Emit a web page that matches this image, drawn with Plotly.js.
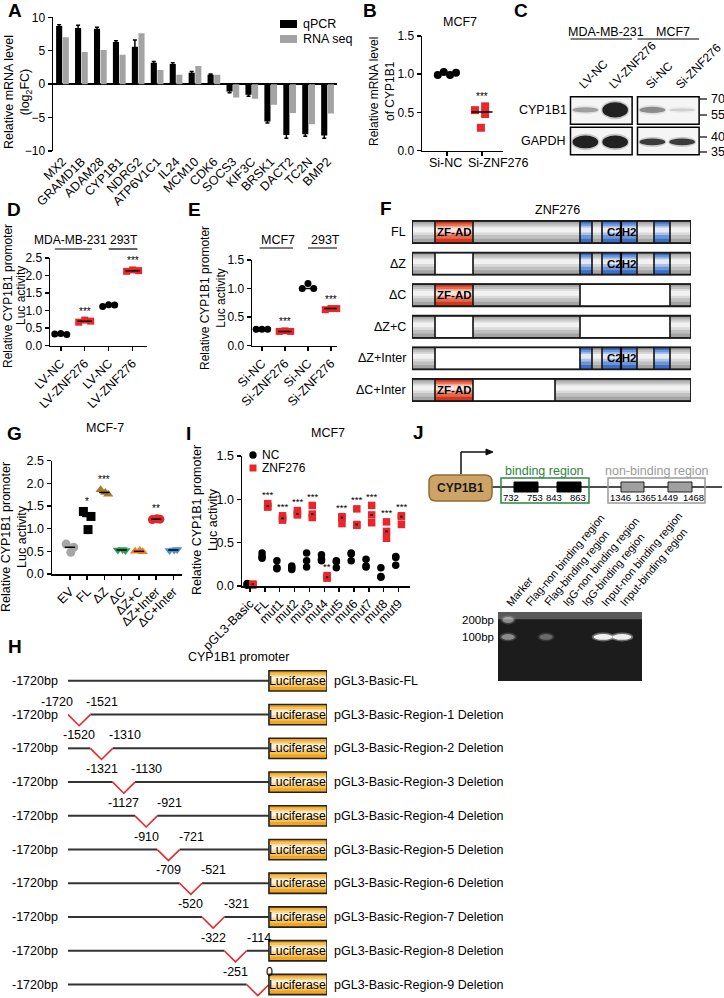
<!DOCTYPE html>
<html>
<head>
<meta charset="utf-8">
<script src="https://cdn.plot.ly/plotly-3.0.1.min.js"></script>
<style>html,body{margin:0;padding:0;background:#fff;}#chart{width:724px;height:998px;}</style>
</head>
<body>
<div id="chart"></div>
<script>
// ================= DATA =================
// Panel A
const genesA=['MX2','GRAMD1B','ADAM28','CYP1B1','NDRG2','ATP6V1C1','IL24','MCM10','CDK6','SOCS3','KIF3C','BRSK1','DACT2','TC2N','BMP2'];
const seriesA=['qPCR','RNA seq'];
const qpcrA=[8.7,8.4,8.3,6.3,5.6,3.2,3.0,1.7,1.4,-1.1,-1.6,-5.6,-7.6,-7.5,-7.7];
const qpcrErrA=[0.2,0.4,0.2,0.2,1.0,0.2,0.2,0.2,0.1,0.2,0.2,0.2,0.5,0.3,0.4];
const rnaseqA=[7.0,4.8,5.1,4.4,7.6,2.1,1.4,2.7,1.4,-2.0,-2.2,-3.1,-4.3,-6.0,-4.4];
// Panel B
const catsB=['Si-NC','Si-ZNF276'];
const ncB=[0.99,1.03,0.99,1.02];
const znfB=[0.53,0.58,0.48,0.30];
// Panel C (western blot)
const blotGroupsC=['MDA-MB-231','MCF7'];
const blotLanesC=['LV-NC','LV-ZNF276','Si-NC','Si-ZNF276'];
const blotRowsC=['CYP1B1','GAPDH'];
const cyp1b1BandC=[0.35,1.0,0.45,0.15];
const gapdhBandC=[1.0,1.0,0.85,0.85];
const markersC=['70','55','40','35'];
// Panel D
const groupsD=['MDA-MB-231','293T'];
const catsD=['LV-NC','LV-ZNF276','LV-NC','LV-ZNF276'];
const valsD=[[0.33,0.35,0.32],[0.67,0.73,0.70],[1.12,1.17,1.16],[2.12,2.16,2.14]];
const starsD=['','***','','***'];
// Panel E
const groupsE=['MCF7','293T'];
const catsE=['Si-NC','Si-ZNF276','Si-NC','Si-ZNF276'];
const valsE=[[0.29,0.29,0.29],[0.25,0.26,0.25],[1.0,1.09,1.0],[0.63,0.65,0.65]];
const starsE=['','***','','***'];
// Panel F (ZNF276 constructs): [start,end,domainType] in diagram units
const constructsF=['FL','ΔZ','ΔC','ΔZ+C','ΔZ+Inter','ΔC+Inter'];
const segmentsF=[
 [[0,23,'g'],[23,61,'z'],[61,168,'g'],[168,180,'b'],[180,190,'g'],[190,209,'b'],[209,225,'b'],[225,242,'g'],[242,258,'b'],[258,279,'g']],
 [[0,23,'g'],[23,61,'w'],[61,168,'g'],[168,180,'b'],[180,190,'g'],[190,209,'b'],[209,225,'b'],[225,242,'g'],[242,258,'b'],[258,279,'g']],
 [[0,23,'g'],[23,61,'z'],[61,168,'g'],[168,258,'w'],[258,279,'g']],
 [[0,23,'g'],[23,61,'w'],[61,168,'g'],[168,258,'w'],[258,279,'g']],
 [[0,23,'g'],[23,168,'w'],[168,180,'b'],[180,190,'g'],[190,209,'b'],[209,225,'b'],[225,242,'g'],[242,258,'b'],[258,279,'g']],
 [[0,23,'g'],[23,61,'z'],[61,143,'w'],[143,279,'g']]
];
const domainNamesF={z:'ZF-AD',c2h2:'C2H2'};
// Panel G
const catsG=['EV','FL','ΔZ','ΔC','ΔZ+C','ΔZ+Inter','ΔC+Inter'];
const valsG=[[0.66,0.59,0.48],[1.38,1.27,0.98],[1.86,1.76,1.80],[0.53,0.52,0.54],[0.50,0.49,0.52],[1.20,1.21,1.22],[0.52,0.54,0.53]];
const starsG=['','*','***','','','**',''];
// Panel I
const seriesI=['NC','ZNF276'];
const catsI=['pGL3-Basic','FL','mut1','mut2','mut3','mut4','mut5','mut6','mut7','mut8','mut9'];
const ncI=[[0.02,0.03,0.01],[0.38,0.34,0.32],[0.29,0.21,0.20],[0.23,0.21,0.19],[0.38,0.29,0.22],[0.36,0.31,0.29],[0.29,0.28,0.21],[0.38,0.37,0.29],[0.31,0.23,0.22],[0.21,0.11,0.10],[0.34,0.33,0.24]];
const znfI=[[0.02,0.02,0.01],[0.95,0.92,0.91],[0.81,0.78,0.76],[0.87,0.83,0.82],[0.93,0.83,0.79],[0.12,0.10,0.09],[0.80,0.79,0.72],[0.89,0.71,0.70],[0.93,0.82,0.73],[0.74,0.63,0.55],[0.81,0.80,0.71]];
const starsI=['','***','***','***','***','**','***','***','***','***','***'];
// Panel H (promoter deletions)
const rowsH=['pGL3-Basic-FL','pGL3-Basic-Region-1 Deletion','pGL3-Basic-Region-2 Deletion','pGL3-Basic-Region-3 Deletion','pGL3-Basic-Region-4 Deletion','pGL3-Basic-Region-5 Deletion','pGL3-Basic-Region-6 Deletion','pGL3-Basic-Region-7 Deletion','pGL3-Basic-Region-8 Deletion','pGL3-Basic-Region-9 Deletion'];
const delFromH=[null,'-1720','-1520','-1321','-1127','-910','-709','-520','-322','-251'];
const delToH=[null,'-1521','-1310','-1130','-921','-721','-521','-321','-114','0'];
const promoterStartH='-1720bp';
// Panel J
const bindingSitesJ=[['732','753'],['843','863']];
const nonBindingSitesJ=[['1346','1365'],['1449','1468']];
const gelLanesJ=['Marker','Flag-non binding region','Flag-binding region','IgG-non binding region','IgG-binding region','Input-non binding region','Input-binding region'];
const gelBand100J=[0.45,0,0.3,0,0,1,1];
const gelBand200J=[0.45,0,0,0,0,0,0];
const gelMarkersJ=[['200bp',200],['100bp',100]];

// ================= HELPERS =================
const FONT='Arial, "Liberation Sans", Helvetica, sans-serif';
const W=724,H=998;
const PX=x=>x/W, PY=y=>1-y/H;
const XD=(a,b)=>[a/W,b/W];
const YD=(t,b)=>[1-b/H,1-t/H];
const shapes=[],ann=[],traces=[];
function T(x,y,t,o){o=o||{};const xr=o.xref||'paper',yr=o.yref||'paper';
 ann.push({xref:xr,yref:yr,x:xr==='paper'?PX(x):x,y:yr==='paper'?PY(y):y,text:t,showarrow:false,
  font:{family:FONT,size:o.size||12,color:o.color||'#000'},xanchor:o.xa||'center',yanchor:o.ya||'middle',
  textangle:o.angle||0,xshift:o.xs||0,yshift:o.ys||0});}
function L(x0,y0,x1,y1,c,w){shapes.push({type:'line',xref:'paper',yref:'paper',x0:PX(x0),y0:PY(y0),x1:PX(x1),y1:PY(y1),line:{color:c||'#000',width:w||1.5}});}
function R(x0,y0,x1,y1,fill,lc,lw){shapes.push({type:'rect',xref:'paper',yref:'paper',x0:PX(x0),y0:PY(y0),x1:PX(x1),y1:PY(y1),fillcolor:fill||'rgba(0,0,0,0)',line:{color:lc||'#000',width:lw==null?1.5:lw}});}
function S(s){shapes.push(s);}
function numAxis(dom,anchor,range,o){return Object.assign({domain:dom,anchor:anchor,range:range,showline:true,linecolor:'#000',linewidth:1.5,
 ticks:'outside',ticklen:4,tickwidth:1.5,tickcolor:'#000',showgrid:false,zeroline:false,fixedrange:true,automargin:false,
 tickfont:{family:FONT,size:12,color:'#000'}},o||{});}
function hidAxis(dom,anchor,range){return {domain:dom,anchor:anchor,range:range,visible:false,fixedrange:true,showgrid:false,zeroline:false};}
const median=a=>{const s=[...a].sort((p,q)=>p-q);const n=s.length;return n%2?s[(n-1)/2]:(s[n/2-1]+s[n/2])/2;};
const RED='#e8262b';
const GRAD={g:['#a4a4a4','#c0c0c0','#dadada','#f2f2f2'],z:['#d6341b','#e46a4f','#efa58f','#fbe2da'],
 b:['#3b6ec6','#6e95d6','#a9c1e8','#e2eaf7'],o:['#f1a623','#f5c159','#f9da98','#fdf1d8']};
function gradBox(xref,yref,x0,x1,yc,hh,cols){ // y axis reversed: yc-hh is top
 const fr=[[0,1],[0.12,0.8],[0.22,0.64],[0.3,0.52]];
 cols.forEach((c,k)=>{const a=fr[k][0],b=fr[k][1];
  S({type:'rect',xref:xref,yref:yref,x0:x0,x1:x1,y0:yc-hh+2*hh*a,y1:yc-hh+2*hh*b,fillcolor:c,line:{width:0}});});
}
function groupScatter(ax,ay,pos,vals,sym,col,size,jit,half,lineW,lineCol){
 traces.push({type:'scatter',mode:'markers',xaxis:ax,yaxis:ay,x:vals.map((v,i)=>pos+(jit?jit[i%jit.length]:0)),y:vals,
  marker:{symbol:sym,size:size,color:col,line:{width:0}},showlegend:false,hoverinfo:'skip',cliponaxis:false});
 if(half){const m=median(vals);traces.push({type:'scatter',mode:'lines',xaxis:ax,yaxis:ay,x:[pos-half,pos+half],y:[m,m],
  line:{color:lineCol||'#000',width:lineW||1.5},showlegend:false,hoverinfo:'skip'});}
}

const layout={width:724,height:998,margin:{l:0,r:0,t:0,b:0},paper_bgcolor:'#fff',plot_bgcolor:'rgba(0,0,0,0)',
 font:{family:FONT,size:12,color:'#000'},barmode:'group',bargap:0.3,bargroupgap:0.08,showlegend:false,hovermode:false};

// ================= PANEL LABELS =================
[['A',15,11],['B',370,11],['C',521,11],['D',14,209],['E',194,209],['F',386,208],['G',14,433],['I',188,433],['J',418,432],['H',15,646]]
 .forEach(p=>T(p[1],p[2],'<b>'+p[0]+'</b>',{size:19}));

// ================= A =================
traces.push({type:'bar',name:seriesA[0],x:genesA,y:qpcrA,xaxis:'x',yaxis:'y',marker:{color:'#000'},
 error_y:{type:'data',array:qpcrErrA,visible:true,color:'#000',thickness:1.5,width:2},hoverinfo:'skip'});
traces.push({type:'bar',name:seriesA[1],x:genesA,y:rnaseqA,xaxis:'x',yaxis:'y',marker:{color:'#a3a3a3'},hoverinfo:'skip'});
layout.xaxis={domain:XD(53,337),anchor:'y',showline:false,ticks:'',tickangle:-45,showgrid:false,zeroline:false,fixedrange:true,automargin:false,
 tickfont:{family:FONT,size:12.5,color:'#000'}};
layout.yaxis=numAxis(YD(17.3,151),'x',[-10,10],{tickvals:[-10,-5,0,5,10],zeroline:true,zerolinecolor:'#000',zerolinewidth:1.5});
T(18,92,'Relative mRNA level<br>(log<sub>2</sub>FC)',{angle:-90,size:12.5});
// legend A
R(280,20,297,28,'#000','#000',0); T(301,24,seriesA[0],{xa:'left',size:12.5});
R(280,35,297,43,'#a3a3a3','#a3a3a3',0); T(301,39,seriesA[1],{xa:'left',size:12.5});

// ================= B =================
const jB1=[-0.26,-0.09,0.09,0.26], jB2=[-0.2,0.09,0.09,-0.03];
groupScatter('x2','y2',0,ncB,'circle','#000',8,jB1,0.3);
groupScatter('x2','y2',1,znfB,'square',RED,8,jB2,0.3);
layout.xaxis2=numAxis(XD(422,503),'y2',[-0.71,1.6],{tickvals:[0,1],showticklabels:false});
layout.yaxis2=numAxis(YD(36,150.7),'x2',[0,1.5],{tickvals:[0,0.5,1,1.5],tickformat:'.1f'});
catsB.forEach((c,i)=>T(i,163,c,{xref:'x2',size:12.5,xs:i?16:-1}));
T(460,22,'MCF7',{size:12.5});
T(1,Math.max(...znfB),'***',{xref:'x2',yref:'y2',ys:10,size:10});
T(382,92,'Relative mRNA level<br>of CYP1B1',{angle:-90,size:12});

// ================= C =================
const laneX=i=>i+(i>=2?0.25:0);
layout.xaxis3=hidAxis(XD(569,700),'y3',[-0.55,3.85]);
layout.yaxis3=hidAxis(YD(95.25,156.25),'x3',[1.5,-0.5]);
const boxesC=[[-0.5,1.57],[1.75,3.82]];
blotRowsC.forEach((rname,r)=>{
 boxesC.forEach(b=>S({type:'rect',xref:'x3',yref:'y3',x0:b[0],x1:b[1],y0:r-0.45,y1:r+0.45,fillcolor:'#f5f5f5',line:{width:0}}));
 const inten=r===0?cyp1b1BandC:gapdhBandC;
 inten.forEach((v,i)=>{
  const x=laneX(i);
  const hgt=r===0?(0.08+0.42*Math.pow(v,1.5)):(i>=2?0.22:0.42);
  const yc=r+(r===0?-0.02:0.03);
  S({type:'circle',xref:'x3',yref:'y3',x0:x-0.47,x1:x+0.47,y0:yc-hgt/2-0.06,y1:yc+hgt/2+0.06,fillcolor:'rgba(30,30,30,'+(0.22*v).toFixed(3)+')',line:{width:0}});
  S({type:'circle',xref:'x3',yref:'y3',x0:x-0.43,x1:x+0.43,y0:yc-hgt/2,y1:yc+hgt/2,fillcolor:'rgba(10,10,10,'+(0.88*v).toFixed(3)+')',line:{width:0}});
 });
 boxesC.forEach(b=>S({type:'rect',xref:'x3',yref:'y3',x0:b[0],x1:b[1],y0:r-0.45,y1:r+0.45,fillcolor:'rgba(0,0,0,0)',line:{color:'#000',width:1.5}}));
 T(543,r===0?110:141,rname,{size:12.5});
});
blotGroupsC.forEach((g,k)=>{const b=boxesC[k];
 S({type:'line',xref:'x3',yref:'paper',x0:b[0],x1:b[1],y0:PY(39),y1:PY(39),line:{color:'#000',width:1.2}});
 T((b[0]+b[1])/2,32,g,{xref:'x3',size:12.5,xs:5});
});
blotLanesC.forEach((l,i)=>T(laneX(i),94,l,{xref:'x3',xa:'left',ya:'bottom',angle:-45,size:12,xs:-12}));
[[99,markersC[0]],[115,markersC[1]],[137,markersC[2]],[152,markersC[3]]].forEach(m=>{L(700,m[0],707,m[0],'#000',1.2);T(709,m[0],m[1],{xa:'left',size:12.5});});

// ================= D =================
const jit3=[-0.25,0,0.25];
valsD.forEach((v,i)=>groupScatter('x4','y4',i,v,i%2?'square':'circle',i%2?RED:'#000',7,jit3,0.3));
layout.xaxis4=numAxis(XD(50,147),'y4',[-0.45,3.6],{tickvals:[0,1,2,3],ticktext:catsD,tickangle:-45,tickfont:{family:FONT,size:12.5,color:'#000'}});
layout.yaxis4=numAxis(YD(258,345.7),'x4',[0,2.5],{tickvals:[0,0.5,1,1.5,2,2.5],tickformat:'.1f'});
starsD.forEach((s,i)=>{if(s)T(i,Math.max(...valsD[i]),s,{xref:'x4',yref:'y4',ys:9,size:10});});
const ulD=[[-0.25,1.3],[2.0,3.2]], lblD=[0.42,2.62];
groupsD.forEach((g,k)=>{T(lblD[k],240,g,{xref:'x4',size:12});
 S({type:'line',xref:'x4',yref:'paper',x0:ulD[k][0],x1:ulD[k][1],y0:PY(249),y1:PY(249),line:{color:'#000',width:1.2}});});
T(8,296,'Relative CYP1B1 promoter',{angle:-90,size:12});
T(21,296,'Luc activity',{angle:-90,size:12});

// ================= E =================
valsE.forEach((v,i)=>groupScatter('x5','y5',i,v,i%2?'square':'circle',i%2?RED:'#000',7,jit3,0.3));
layout.xaxis5=numAxis(XD(252,337),'y5',[-0.43,3.26],{tickvals:[0,1,2,3],ticktext:catsE,tickangle:-45,tickfont:{family:FONT,size:12.5,color:'#000'}});
layout.yaxis5=numAxis(YD(260,345.7),'x5',[0,1.5],{tickvals:[0,0.5,1,1.5],tickformat:'.1f'});
starsE.forEach((s,i)=>{if(s)T(i,Math.max(...valsE[i]),s,{xref:'x5',yref:'y5',ys:9,size:10});});
const ulE=[[-0.1,1.35],[2.0,3.35]], lblE=[0.7,2.75];
groupsE.forEach((g,k)=>{T(lblE[k],240,g,{xref:'x5',size:12.5});
 S({type:'line',xref:'x5',yref:'paper',x0:ulE[k][0],x1:ulE[k][1],y0:PY(248),y1:PY(248),line:{color:'#000',width:1.2}});});
T(213,298,'Relative CYP1B1 promoter<br>Luc activity',{angle:-90,size:12});

// ================= F =================
layout.xaxis6=hidAxis(XD(412,691),'y6',[0,279]);
layout.yaxis6=hidAxis(YD(216.2,405.8),'x6',[5.5,-0.5]);
const hhF=0.35;
constructsF.forEach((c,r)=>{
 const segs=segmentsF[r];
 segs.forEach(s=>{
  if(s[2]==='w') S({type:'rect',xref:'x6',yref:'y6',x0:s[0],x1:s[1],y0:r-hhF,y1:r+hhF,fillcolor:'#fff',line:{width:0}});
  else gradBox('x6','y6',s[0],s[1],r,hhF,GRAD[s[2]]);
 });
 segs.forEach(s=>S({type:'rect',xref:'x6',yref:'y6',x0:s[0],x1:s[1],y0:r-hhF,y1:r+hhF,fillcolor:'rgba(0,0,0,0)',line:{color:'#1a1a1a',width:1.2}}));
 S({type:'rect',xref:'x6',yref:'y6',x0:0,x1:279,y0:r-hhF,y1:r+hhF,fillcolor:'rgba(0,0,0,0)',line:{color:'#1a1a1a',width:1.8}});
 segs.forEach((s,k)=>{
  if(s[2]==='z') T((s[0]+s[1])/2,r,'<b>'+domainNamesF.z+'</b>',{xref:'x6',yref:'y6',size:11.5});
  if(s[2]==='b'&&segs[k+1]&&segs[k+1][2]==='b'){
   S({type:'line',xref:'x6',yref:'y6',x0:s[1],x1:s[1],y0:r-hhF,y1:r+hhF,line:{color:'#000',width:2.2}});
   T(s[1],r,'<b>'+domainNamesF.c2h2+'</b>',{xref:'x6',yref:'y6',size:11.5});}
 });
 T(408,0,c,{yref:'y6',xa:'right',size:12.5}); ann[ann.length-1].y=r;
});
T(557,210,'ZNF276',{size:12.5});

// ================= G =================
const colorsG=['#a6a6a6','#000000','#a57a2c','#2f9b57','#f47a20','#e3262b','#4d8fd6'];
const symbolsG=['circle','square','triangle-up','triangle-down','triangle-up','circle','triangle-down'];
const jitG=[-0.22,0.22,0.05];
valsG.forEach((v,i)=>groupScatter('x7','y7',i,v,symbolsG[i],colorsG[i],9,jitG,0.3));
layout.xaxis7=numAxis(XD(52,182),'y7',[-1.04,6.5],{tickvals:[0,1,2,3,4,5,6],ticktext:catsG,tickangle:-45,tickfont:{family:FONT,size:12.5,color:'#000'}});
layout.yaxis7=numAxis(YD(460.7,574),'x7',[0,2.5],{tickvals:[0,0.5,1,1.5,2,2.5],tickformat:'.1f',tickfont:{family:FONT,size:12.5,color:'#000'}});
starsG.forEach((s,i)=>{if(s)T(i,Math.max(...valsG[i]),s,{xref:'x7',yref:'y7',ys:10,size:10});});
T(105,428,'MCF-7',{size:12.5});
T(14,537,'Relative CYP1B1 promoter<br>Luc activity',{angle:-90,size:12.5});

// ================= I =================
const offI=0.19;
ncI.forEach((v,i)=>traces.push({type:'scatter',mode:'markers',xaxis:'x8',yaxis:'y8',x:v.map(()=>i-offI),y:v,name:seriesI[0],
 marker:{symbol:'circle',size:7.5,color:'#000'},showlegend:false,hoverinfo:'skip',cliponaxis:false}));
znfI.forEach((v,i)=>{traces.push({type:'scatter',mode:'markers',xaxis:'x8',yaxis:'y8',x:v.map(()=>i+offI),y:v,name:seriesI[1],
 marker:{symbol:'square',size:7.5,color:RED},showlegend:false,hoverinfo:'skip',cliponaxis:false});
 const m=median(v);traces.push({type:'scatter',mode:'lines',xaxis:'x8',yaxis:'y8',x:[i+offI-0.08,i+offI+0.08],y:[m,m],line:{color:'#000',width:1.8},showlegend:false,hoverinfo:'skip'});});
layout.xaxis8=numAxis(XD(242,410),'y8',[-0.54,10.77],{tickvals:catsI.map((c,i)=>i),ticktext:catsI,tickangle:-45,tickfont:{family:FONT,size:12.5,color:'#000'}});
layout.yaxis8=numAxis(YD(456,586),'x8',[0,1.5],{tickvals:[0,0.5,1,1.5],tickformat:'.1f',tickfont:{family:FONT,size:12.5,color:'#000'}});
starsI.forEach((s,i)=>{if(s)T(i+offI,Math.max(...znfI[i]),s,{xref:'x8',yref:'y8',ys:9,size:9.5});});
// legend I
S({type:'circle',xref:'paper',yref:'paper',x0:PX(249.3),x1:PX(256.7),y0:PY(451.3),y1:PY(458.7),fillcolor:'#000',line:{width:0}});
T(260,455,seriesI[0],{xa:'left',size:12});
R(249.5,464.5,256.5,471.5,RED,RED,0);
T(260,468,seriesI[1],{xa:'left',size:12});
T(328,433,'MCF7',{size:12.5});
T(205,520,'Relative CYP1B1 promoter<br>Luc activity',{angle:-90,size:12.5});

// ================= H =================
layout.xaxis9=hidAxis(XD(68,327),'y9',[0,11.6]);
layout.yaxis9=hidAxis(YD(664,998),'x9',[9.40,-0.5]);
const lineH=(x0,x1,r)=>S({type:'line',xref:'x9',yref:'y9',x0:x0,x1:x1,y0:r,y1:r,line:{color:'#333',width:2}});
rowsH.forEach((name,r)=>{
 if(delFromH[r]===null){lineH(0,9,r);}
 else{const a=r-1,b=r;
  if(a>0) lineH(0,a,r);
  if(b<9) lineH(b,9,r);
  S({type:'path',xref:'x9',yref:'y9',path:'M'+a+','+r+' L'+(a+0.5)+','+(r+0.33)+' L'+b+','+r,line:{color:RED,width:1.6}});
  T(a,r,delFromH[r],{xref:'x9',yref:'y9',xs:-11,ys:13,size:12.5});
  T(b,r,delToH[r],{xref:'x9',yref:'y9',xs:r===9?1:12,ys:13,size:12.5});
 }
 gradBox('x9','y9',9,11.6,r,0.3,GRAD.o);
 S({type:'rect',xref:'x9',yref:'y9',x0:9,x1:11.6,y0:r-0.3,y1:r+0.3,fillcolor:'rgba(0,0,0,0)',line:{color:'#222',width:1.6}});
 T(10.3,r,'Luciferase',{xref:'x9',yref:'y9',size:12.3});
 T(60,0,promoterStartH,{yref:'y9',xa:'right',size:12.5});ann[ann.length-1].y=r;
 T(332,0,name,{yref:'y9',xa:'left',size:12.5});ann[ann.length-1].y=r;
});
T(238,657,'CYP1B1 promoter',{size:12.5});

// ================= J =================
function rr(x0,y0,x1,y1,r){const X=PX,Y=PY;
 return 'M'+X(x0+r)+','+Y(y0)+' L'+X(x1-r)+','+Y(y0)+' Q'+X(x1)+','+Y(y0)+' '+X(x1)+','+Y(y0+r)+' L'+X(x1)+','+Y(y1-r)+' Q'+X(x1)+','+Y(y1)+' '+X(x1-r)+','+Y(y1)+
  ' L'+X(x0+r)+','+Y(y1)+' Q'+X(x0)+','+Y(y1)+' '+X(x0)+','+Y(y1-r)+' L'+X(x0)+','+Y(y0+r)+' Q'+X(x0)+','+Y(y0)+' '+X(x0+r)+','+Y(y0)+' Z';}
L(492,487,722,487,'#111',1.5);
L(461,474,461,452,'#111',1.5);L(461,452,487,452,'#111',1.5);
S({type:'path',xref:'paper',yref:'paper',path:'M'+PX(486)+','+PY(449)+' L'+PX(493)+','+PY(452)+' L'+PX(486)+','+PY(455)+' Z',fillcolor:'#111',line:{color:'#111',width:1}});
S({type:'path',xref:'paper',yref:'paper',path:rr(429,475,492,501,7),fillcolor:'#cda466',line:{color:'#8d6b35',width:1.5}});
T(460.5,488,'<b>CYP1B1</b>',{size:12,color:'#1a1a1a'});
R(501,478,589,503,'rgba(0,0,0,0)','#2e8540',1.5);
R(608,478,705,503,'rgba(0,0,0,0)','#9a9a9a',1.5);
T(544,471,'binding region',{size:12.5,color:'#2e8540'});
T(657,471,'non-binding region',{size:12.5,color:'#9a9a9a'});
const siteBoxJ=[[514,538],[557,581]], nbBoxJ=[[621,644],[668,692]];
bindingSitesJ.forEach((s,k)=>{const b=siteBoxJ[k];R(b[0],482,b[1],492,'#000','#000',1);
 T(b[0]-3,498,s[0],{size:9.5});T(b[1]-3,498,s[1],{size:9.5});});
nonBindingSitesJ.forEach((s,k)=>{const b=nbBoxJ[k];R(b[0],482,b[1],492,'#a0a0a0','#222',1);
 T(b[0]-1,498,s[0],{size:9.5});T(b[1]+1,498,s[1],{size:9.5});});
// gel
layout.xaxis10=hidAxis(XD(498,642),'y10',[-0.53,7.05]);
layout.yaxis10=hidAxis(YD(612,681),'x10',[-159,247]);
S({type:'rect',xref:'x10',yref:'y10',x0:-0.53,x1:7.05,y0:-159,y1:247,fillcolor:'#1c1c1c',line:{width:0}});
S({type:'rect',xref:'x10',yref:'y10',x0:-0.53,x1:7.05,y0:205,y1:247,fillcolor:'#5a5a5a',line:{width:0}});
const bandG=(i,bp,v,w)=>{if(v<=0)return;
 S({type:'circle',xref:'x10',yref:'y10',x0:i-w-0.1,x1:i+w+0.1,y0:bp-26,y1:bp+26,fillcolor:'rgba(255,255,255,'+(0.35*v)+')',line:{width:0}});
 S({type:'circle',xref:'x10',yref:'y10',x0:i-w,x1:i+w,y0:bp-17,y1:bp+17,fillcolor:'rgba(255,255,255,'+(0.9*v)+')',line:{width:0}});};
gelBand100J.forEach((v,i)=>bandG(i,100,v,i>=5?0.5:0.35));
gelBand200J.forEach((v,i)=>bandG(i,200,v,0.3));
gelMarkersJ.forEach(m=>T(496,m[1],m[0],{yref:'y10',xa:'right',size:11.5}));
gelLanesJ.forEach((l,i)=>T(i,611,l,{xref:'x10',xa:'left',ya:'bottom',angle:-50,size:11,xs:-7}));

layout.shapes=shapes;layout.annotations=ann;
Plotly.newPlot('chart',traces,layout,{staticPlot:true,displayModeBar:false});
</script>
</body>
</html>
